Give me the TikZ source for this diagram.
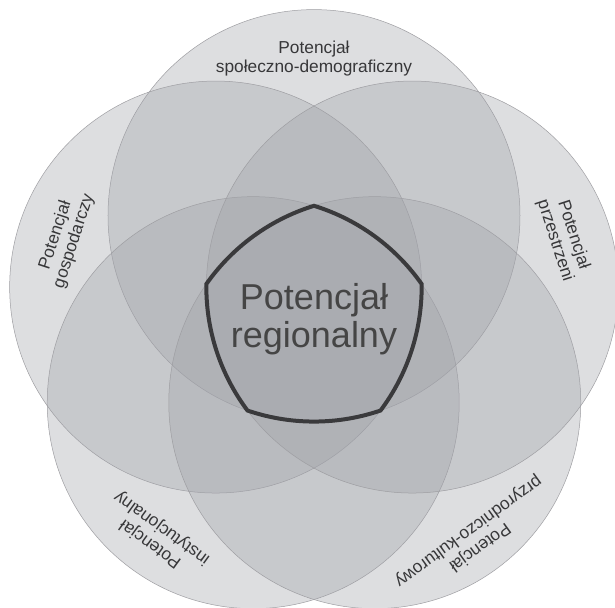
\documentclass[tikz,border=0pt]{standalone}
\usepackage{fontspec}
\setmainfont{Liberation Sans}
\definecolor{circlefill}{RGB}{160,162,168}
\definecolor{circleline}{RGB}{158,158,162}
\definecolor{coreline}{RGB}{58,58,60}
\definecolor{labeltext}{RGB}{55,55,57}
\tikzstyle{potcircle} =
[
	circle
	, minimum size=412pt
	, inner sep=0pt
	, draw=circleline
	, line width=0.5pt
	, fill=circlefill
	, fill opacity=0.35
]
\tikzstyle{potlabel} =
[
	align=center
	, inner sep=0pt
	, text=labeltext
	, font=\fontsize{17.3}{19.4}\selectfont
]
\tikzstyle{mainlabel} =
[
	align=center
	, inner sep=0pt
	, text=black!73
	, font=\fontsize{36}{38.3}\selectfont
]
\tikzstyle{core} = [line width=4pt, draw=coreline]

\begin{document}
\begin{tikzpicture}

\useasboundingbox(-314pt,-288pt) rectangle (301pt,319pt);
\fill[white](-314pt,-288pt) rectangle (301pt,319pt);

\node(spol)[potcircle] at (90:103.4pt){};
\node(gosp)[potcircle] at (162:103.4pt){};
\node(inst)[potcircle] at (234:103.4pt){};
\node(przyr)[potcircle] at (306:103.4pt){};
\node(przest)[potcircle] at (18:103.4pt){};

\draw[core](90:113.2pt) foreach \a in {54,-18,-90,-162,-234}{arc[start angle=\a+18.84, end angle=\a-18.84, radius=206pt]} -- cycle;

\node(region)[mainlabel] at (0,0){Potencjał\\regionalny};
\node(spollabel)[potlabel] at (90:260.5pt){Potencjał\\społeczno-demograficzny};
\node(gosplabel)[potlabel, rotate=72] at (162:262pt){Potencjał\\gospodarczy};
\node(instlabel)[potlabel, rotate=144] at (234:268pt){Potencjał\\instytucjonalny};
\node(przyrlabel)[potlabel, rotate=216] at (306:272pt){Potencjał\\przyrodniczo-kulturowy};
\node(przestlabel)[potlabel, rotate=-72] at (18:263pt){Potencjał\\przestrzeni};

\end{tikzpicture}
\end{document}
